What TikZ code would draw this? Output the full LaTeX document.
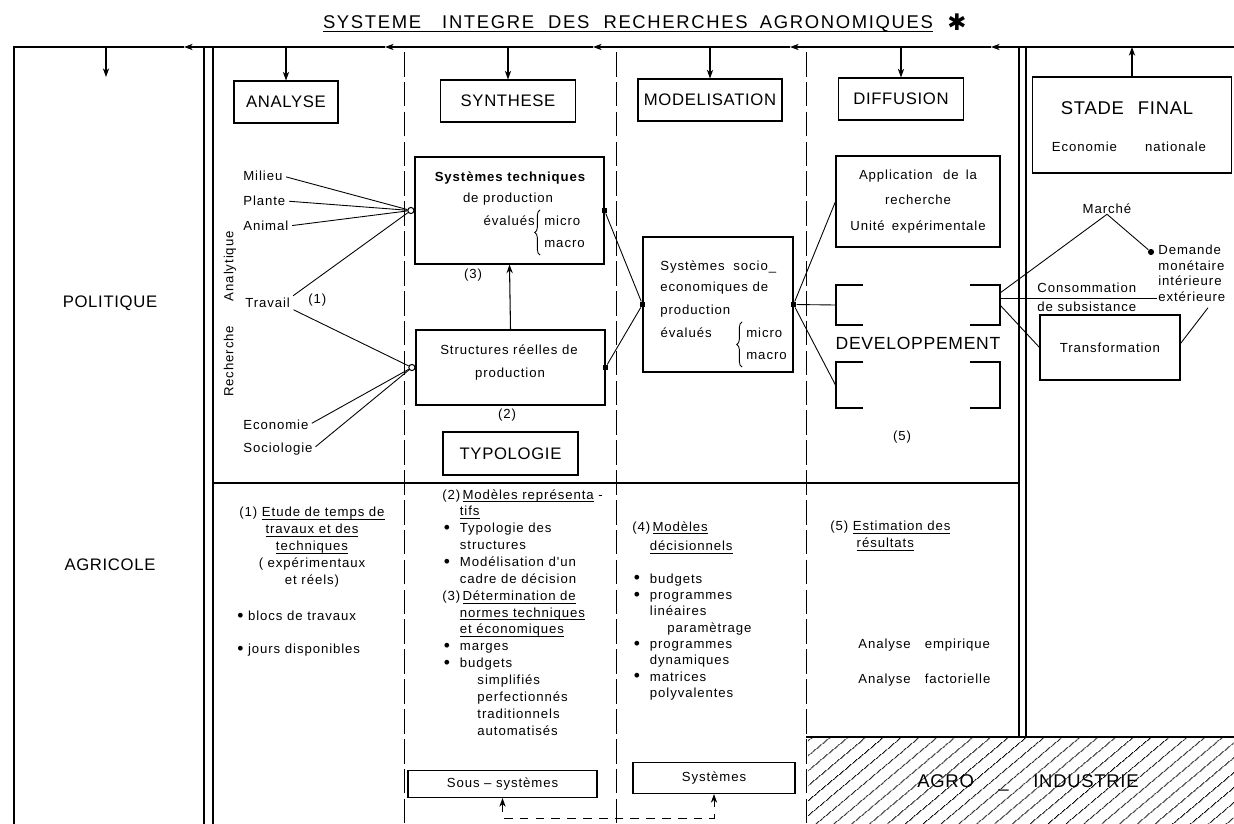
\documentclass[tikz,border=0pt]{standalone}
\usepackage{fontspec}
\setmainfont{Liberation Sans}
\newfontfamily\capsfont[LetterSpace=4]{Liberation Sans}
\newfontfamily\titlefont[LetterSpace=9]{Liberation Sans}
\newfontfamily\handfont[LetterSpace=7]{Liberation Sans}
\newfontfamily\symfont{DejaVu Sans}
\usepackage{tikz}
\usetikzlibrary{positioning,arrows.meta,calc,decorations.pathreplacing,patterns.meta}
\tikzset{
  frame/.style  ={line width=0.6pt},
  colsep/.style ={line width=0.5pt, dash pattern=on 14pt off 3pt},
  box/.style    ={draw, line width=0.6pt, inner sep=0pt},
  caps/.style   ={inner sep=0pt, font=\capsfont\fontsize{9.5}{11}\selectfont},
  bigcaps/.style={inner sep=0pt, font=\capsfont\fontsize{10.5}{12}\selectfont},
  hand/.style   ={inner sep=0pt, font=\handfont\fontsize{7.5}{9.6}\selectfont},
  capbox/.style ={box, caps},
  handbox/.style={box, hand},
  link/.style   ={line width=0.5pt},
  flow/.style   ={line width=0.6pt, -{Stealth[length=5pt,width=3.6pt]}},
  jdot/.style   ={circle, draw, fill=white, line width=0.6pt, inner sep=0pt,
                  minimum size=3.5pt},
  sqdot/.style  ={rectangle, fill, inner sep=0pt, minimum size=3pt},
}
% underline that keeps the line depth
\newsavebox{\ulbox}
\newcommand{\undl}[1]{\sbox{\ulbox}{#1}\rlap{\rule[-1.7pt]{\wd\ulbox}{0.4pt}}\usebox{\ulbox}}
\newlength{\indw}\setlength{\indw}{10pt}
\newcommand{\ind}{\hspace*{\indw}}
\newcommand{\bigbul}{\raisebox{-0.4pt}{\fontsize{10}{9}\selectfont\textbullet}}
\newcommand{\bul}{\makebox[\indw][l]{\hspace{0.8pt}\bigbul}}
% "evalues { micro / macro": name, brace top, x shift of "evalues"
\newcommand{\evalues}[3]{%
  \node[hand, anchor=east] (#1-ev) at ($(#2)+(#3,11)$) {évalués};
  \draw[link, decorate, decoration={brace, amplitude=3pt}] ($(#2)+(0,45)$) -- (#2);
  \node[hand, anchor=west] (#1-mi) at ($(#2)+(4,11)$) {micro};
  \node[hand, anchor=west] (#1-ma) at ($(#2)+(4,34)$) {macro};}
% one open box of DEVELOPPEMENT, top and bottom y
\newcommand{\devbracket}[2]{%
  \draw[frame] (863,#1) -- (836,#1) -- (836,#2) -- (863,#2);
  \draw[frame] (970,#1) -- (1000,#1) -- (1000,#2) -- (970,#2);}

\begin{document}
\begin{tikzpicture}[x=0.02cm, y=-0.02cm]
  \useasboundingbox (0,0) rectangle (1234,824);
  % title
  \node[inner sep=0pt, font=\titlefont\fontsize{10.5}{12}\selectfont] (title) at (628,24)
    {\undl{SYSTEME\hspace{12pt}INTEGRE\hspace{8pt}DES\hspace{8pt}RECHERCHES\hspace{7pt}AGRONOMIQUES}};
  \node[inner sep=0pt, font=\symfont\fontsize{13}{13}\selectfont] (star) at (957,22) {✱};

  % top line and column rules
  \coordinate (topline) at (0,47);
  \draw[frame] (14,824) -- (14,47) -- (184,47);
  \foreach \a/\b in {1234/991, 991/790, 790/593, 593/385, 385/184}
    \draw[flow] (\a,47) -- (\b,47);
  \foreach \x in {204,213} \draw[frame] (\x,47) -- (\x,824);
  \foreach \x in {1019,1026} \draw[frame] (\x,47) -- (\x,737);
  \foreach \x in {404,616,806} \draw[colsep] (\x,52) -- (\x,824);
  \draw[frame] (213,483) -- (1019,483);
  \fill[pattern={Lines[angle=40,distance=6.5pt,line width=0.5pt]}]
    (808,737) rectangle (1234,824);
  \draw[frame] (806,737) -- (1234,737);
  \node[bigcaps] (agro) at (1028,783) {AGRO\hspace{14pt}\_\hspace{14pt}INDUSTRIE};

  % column heads
  \node[capbox, minimum width=2.08cm, minimum height=0.84cm] (analyse)   at (286,102) {ANALYSE};
  \node[capbox, minimum width=2.70cm, minimum height=0.84cm] (synthese)  at (508,101) {SYNTHESE};
  \node[capbox, minimum width=2.88cm, minimum height=0.84cm] (modelis)   at (710,100) {MODELISATION};
  \node[capbox, minimum width=2.50cm, minimum height=0.84cm] (diffusion) at (901,99)  {DIFFUSION};
  \node[box, minimum width=3.98cm, minimum height=1.92cm] (stade) at (1132,125) {};
  \node[bigcaps] (stadet) at (1127,108) {STADE\hspace{8pt}FINAL};
  \node[hand] (econat) at (1129,147) {Economie\hspace{16pt}nationale};
  \coordinate (polhead) at (106,77);
  \draw[flow] (polhead |- topline) -- (polhead);
  \foreach \n in {analyse,synthese,modelis,diffusion}
    \draw[flow] (\n.north |- topline) -- (\n.north);
  \draw[flow] (stade.north) -- (stade.north |- topline);

  % politique agricole
  \node[caps] (politique) at (110,303) {POLITIQUE};
  \node[caps] (agricole)  at (110,565) {AGRICOLE};

  % analyse
  \node[hand, rotate=90] (recherche) at (230,314) {Recherche\hspace{14pt}Analytique};
  \node[hand, anchor=west] (milieu)     at (243,176) {Milieu};
  \node[hand, anchor=west] (plante)     at (243,201) {Plante};
  \node[hand, anchor=west] (animal)     at (243,226) {Animal};
  \node[hand, anchor=west] (travail)    at (245,303) {Travail};
  \node[hand, anchor=west] (n1)         at (308,300) {(1)};
  \node[hand, anchor=west] (economie)   at (243,425) {Economie};
  \node[hand, anchor=west] (sociologie) at (243,449) {Sociologie};

  % synthese
  \node[box, minimum width=3.78cm, minimum height=2.14cm] (systech) at (509.5,210.5) {};
  \node[hand, font=\handfont\bfseries\fontsize{7.5}{9.6}\selectfont] (systech1) at (510,178) {Systèmes techniques};
  \node[hand] (systech2) at (508,199) {de production};
  \evalues{st}{540,210}{-5}
  \node[hand] (n3) at (473,275) {(3)};
  \node[box, minimum width=3.78cm, minimum height=1.5cm] (structures) at (510.5,367.5) {};
  \node[hand] (struct1) at (509,350) {Structures réelles de};
  \node[hand] (struct2) at (510,374) {production};
  \node[hand] (n2) at (507,415) {(2)};
  \node[capbox, minimum width=2.7cm, minimum height=0.86cm] (typologie) at (510.5,453.5) {TYPOLOGIE};
  \draw[flow] (structures.north) -- (systech.south);

  \node[jdot, left=0pt of systech.west] (jtop) {};
  \node[jdot, left=0pt of structures.west] (jbot) {};
  \foreach \s in {milieu.east, plante.east, animal.east, travail.north east}
    \draw[link, shorten <=2pt] (\s) -- (jtop);
  \foreach \s in {travail.south east, economie.east, sociologie.east}
    \draw[link, shorten <=2pt] (\s) -- (jbot);

  % modelisation
  \node[box, minimum width=3.0cm, minimum height=2.7cm] (socio) at (718,304.5) {};
  \node[hand, anchor=west] (socio1) at (660,267) {Systèmes\hspace{5pt}socio\_};
  \node[hand, anchor=west] (socio2) at (660,288) {economiques de};
  \node[hand, anchor=west] (socio3) at (660,311) {production};
  \evalues{se}{742,322}{-30}
  \node[sqdot] (sqtop) at (systech.east) {};
  \node[sqdot] (sqbot) at (structures.east) {};
  \node[sqdot] (sqin)  at (socio.west) {};
  \node[sqdot] (sqout) at (socio.east) {};
  \draw[link] (sqtop) -- (sqin);
  \draw[link] (sqbot) -- (sqin);

  % diffusion
  \node[box, minimum width=3.28cm, minimum height=1.82cm, align=center,
        font=\handfont\fontsize{7.5}{14.7}\selectfont] (application) at (918,201.5)
    {Application\hspace{6pt}de\hspace{4pt}la\\recherche\\Unité\hspace{4pt}expérimentale};
  \devbracket{285}{325}
  \devbracket{362}{408}
  \node[font=\capsfont\fontsize{10}{12}\selectfont, inner sep=0pt] (develop) at (918,343) {DEVELOPPEMENT};
  \node[hand] (n5) at (902,437) {(5)};
  \coordinate (devtop) at (836,305);
  \coordinate (devbot) at (836,386);
  \draw[link] (sqout) -- (application.west);
  \draw[link] (sqout) -- (devtop);
  \draw[link] (sqout) -- (devbot);

  % stade final
  \coordinate (devR1) at (1000,293);
  \coordinate (devR2) at (1000,298);
  \coordinate (devR3) at (1000,305);
  \coordinate (consend) at (1157,298);
  \node[hand] (marche) at (1107,209) {Marché};
  \node[circle, fill, inner sep=0pt, minimum size=3.5pt] (demdot) at (1151,252) {};
  \node[hand, align=left, anchor=north west,
        font=\handfont\fontsize{7.5}{8.8}\selectfont] (demande) at (1158,245)
    {Demande\\monétaire\\intérieure\\extérieure};
  \node[hand, anchor=west] (conso)   at (1037,288) {Consommation};
  \node[hand, anchor=west] (subsist) at (1037,307) {de subsistance};
  \node[handbox, minimum width=2.8cm, minimum height=1.3cm] (transf) at (1110,347.5) {Transformation};
  \draw[link] (devR1) -- (marche.south) -- (demdot);
  \draw[link] (devR2) -- (consend);
  \draw[link] (devR3) -- (transf.west);
  \draw[link] ($(transf.east)+(0,-4)$) -- ($(demande.south west)+(50,6)$);

  % lower half
  \node[hand, align=center, anchor=north] (etude) at (312,507)
    {(1) \undl{Etude de temps de}\\\undl{travaux et des}\\\undl{techniques}\\( expérimentaux\\et réels)};
  \node[hand, align=left, anchor=north west] (blocs) at (237,611)
    {\bigbul\ blocs de travaux\\[9pt]\bigbul\ jours disponibles};
  \node[hand, align=left, anchor=north west] (modrep) at (442,489)
    {(2)\,\undl{Modèles représenta}\ -\\
     \ind\undl{tifs}\\
     \bul Typologie des\\
     \ind structures\\
     \bul Modélisation d'un\\
     \ind cadre de décision\\
     (3)\,\undl{Détermination de}\\
     \ind\undl{normes techniques}\\
     \ind\undl{et économiques}\\
     \bul marges\\
     \bul budgets\\
     \ind\ind simplifiés\\
     \ind\ind perfectionnés\\
     \ind\ind traditionnels\\
     \ind\ind automatisés};
  \node[hand, align=left, anchor=north west,
        font=\handfont\fontsize{7.5}{9.3}\selectfont] (moddec) at (632,521)
    {(4)\,\undl{Modèles}\\[2pt]
     \ind\undl{décisionnels}\\[9pt]
     \bul budgets\\
     \bul programmes\\
     \ind linéaires\\
     \ind\ind paramètrage\\
     \bul programmes\\
     \ind dynamiques\\
     \bul matrices\\
     \ind polyvalentes};
  \node[hand, align=left, anchor=north west] (estim) at (830,521)
    {(5)\ \undl{Estimation des}\\\hspace*{15pt}\undl{résultats}};
  \node[hand, anchor=west] (empir) at (858,645) {Analyse\hspace{8pt}empirique};
  \node[hand, anchor=west] (factor) at (858,680) {Analyse\hspace{8pt}factorielle};

  % sub-systems and systems
  \node[handbox, minimum width=3.78cm, minimum height=0.54cm] (soussys) at (502.5,784) {Sous – systèmes};
  \node[handbox, minimum width=3.24cm, minimum height=0.62cm] (systemes) at (714,778) {Systèmes};
  \coordinate (fbL) at (soussys.south |- 0,818);
  \coordinate (fbR) at (systemes.south |- 0,818);
  \draw[link, dash pattern=on 5pt off 4pt, {Stealth[length=5pt,width=3.6pt]}-{Stealth[length=5pt,width=3.6pt]}]
    (soussys.south) -- (fbL) -- (fbR) -- (systemes.south);
\end{tikzpicture}
\end{document}
